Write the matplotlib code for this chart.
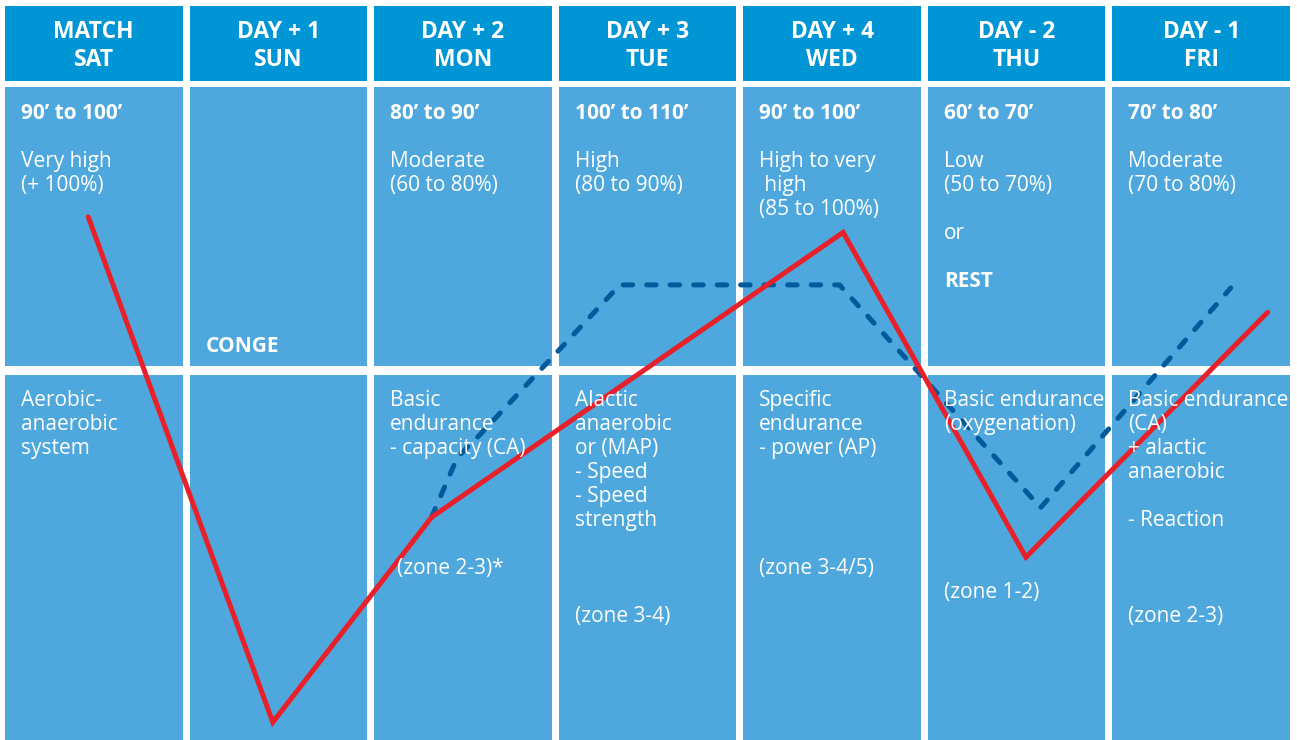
import matplotlib.pyplot as plt
from matplotlib.patches import Rectangle

plt.rcParams['font.family'] = ['Open Sans', 'DejaVu Sans']

# column headers
days = ['MATCH\nSAT', 'DAY + 1\nSUN', 'DAY + 2\nMON', 'DAY + 3\nTUE',
        'DAY + 4\nWED', 'DAY - 2\nTHU', 'DAY - 1\nFRI']

# top row
durations = ["90\u2019 to 100\u2019", "", "80\u2019 to 90\u2019", "100\u2019 to 110\u2019",
             "90\u2019 to 100\u2019", "60\u2019 to 70\u2019", "70\u2019 to 80\u2019"]
intensity = ["Very high\n(+ 100%)", "", "Moderate\n(60 to 80%)", "High\n(80 to 90%)",
             "High to very\n high\n(85 to 100%)", "Low\n(50 to 70%)\n\nor", "Moderate\n(70 to 80%)"]

# bottom row
systems = ["Aerobic-\nanaerobic\nsystem", "", "Basic\nendurance\n- capacity (CA)",
           "Alactic\nanaerobic\nor (MAP)\n- Speed\n- Speed\nstrength",
           "Specific\nendurance\n- power (AP)", "Basic endurance\n(oxygenation)",
           "Basic endurance\n(CA)\n+ alactic\nanaerobic\n\n- Reaction"]
zones = ["", "", "(zone 2-3)*", "(zone 3-4)", "(zone 3-4/5)", "(zone 1-2)", "(zone 2-3)"]
zone_line = [0, 0, 7, 9, 7, 8, 9]

# load curves (x = day column, y = relative load)
red_x = [-0.03, 0.97, 1.83, 4.06, 5.05, 6.36]
red_y = [70.7, 2.4, 30.1, 68.6, 24.7, 57.8]
blue_x = [1.83, 1.97, 2.09, 2.85, 4.04, 5.13, 6.16]
blue_y = [30.1, 38.2, 41.2, 61.5, 61.5, 31.4, 61.1]

HEAD = '#0096d6'
BODY = '#4fa8dd'
RED = '#e8202a'
DBLUE = '#005a9c'

W, H = 1297, 740
FS = 15


def py(p):
    # pixel row -> y value
    return (H - p) / H * 100


fig = plt.figure(figsize=(W / 100, H / 100), dpi=100)
ax = fig.add_axes([1.5 / W, 0, 1292 / W, 1])
ax.set_xlim(-0.5, 6.5)
ax.set_ylim(0, 100)
ax.axis('off')

gap = 7 / 184.6
pad = 16 / 184.6
for i in range(7):
    x0 = i - 0.5 + gap / 2
    w = 1 - gap
    ax.add_patch(Rectangle((x0, py(81)), w, py(6) - py(81), color=HEAD, lw=0))
    ax.add_patch(Rectangle((x0, py(366)), w, py(87) - py(366), color=BODY, lw=0))
    ax.add_patch(Rectangle((x0, py(740)), w, py(375) - py(740), color=BODY, lw=0))

    l1, l2 = days[i].split('\n')
    ax.text(i, py(38.5), l1, ha='center', va='baseline', color='white',
            fontsize=16.5, fontweight='bold')
    ax.text(i, py(66.5), l2, ha='center', va='baseline', color='white',
            fontsize=16.5, fontweight='bold')

    tx = x0 + pad
    if durations[i]:
        ax.text(tx, py(119), durations[i], ha='left', va='baseline', color='white',
                fontsize=FS, fontweight='bold')
    for k, s in enumerate(intensity[i].split('\n')):
        ax.text(tx, py(167 + 24 * k), s, ha='left', va='baseline', color='white', fontsize=FS)
    if systems[i]:
        for k, s in enumerate(systems[i].split('\n')):
            ax.text(tx, py(406 + 24 * k), s, ha='left', va='baseline', color='white', fontsize=FS)
    if zones[i]:
        zx = tx + (7 / 184.6 if i == 2 else 0)
        ax.text(zx, py(406 + 24 * zone_line[i]), zones[i], ha='left', va='baseline',
                color='white', fontsize=FS)

ax.text(1 - 0.5 + gap / 2 + pad, py(352), 'CONGE', ha='left', va='baseline',
        color='white', fontsize=FS, fontweight='bold')
ax.text(5 - 0.5 + gap / 2 + pad, py(287), 'REST', ha='left', va='baseline',
        color='white', fontsize=FS, fontweight='bold')

ax.plot(blue_x, blue_y, color=DBLUE, lw=3.6, linestyle=(0, (1.9, 2.8)),
        dash_capstyle='round', solid_joinstyle='round')
ax.plot(red_x, red_y, color=RED, lw=3.6, solid_capstyle='round', solid_joinstyle='miter')

fig.savefig('out.png', dpi=100)
